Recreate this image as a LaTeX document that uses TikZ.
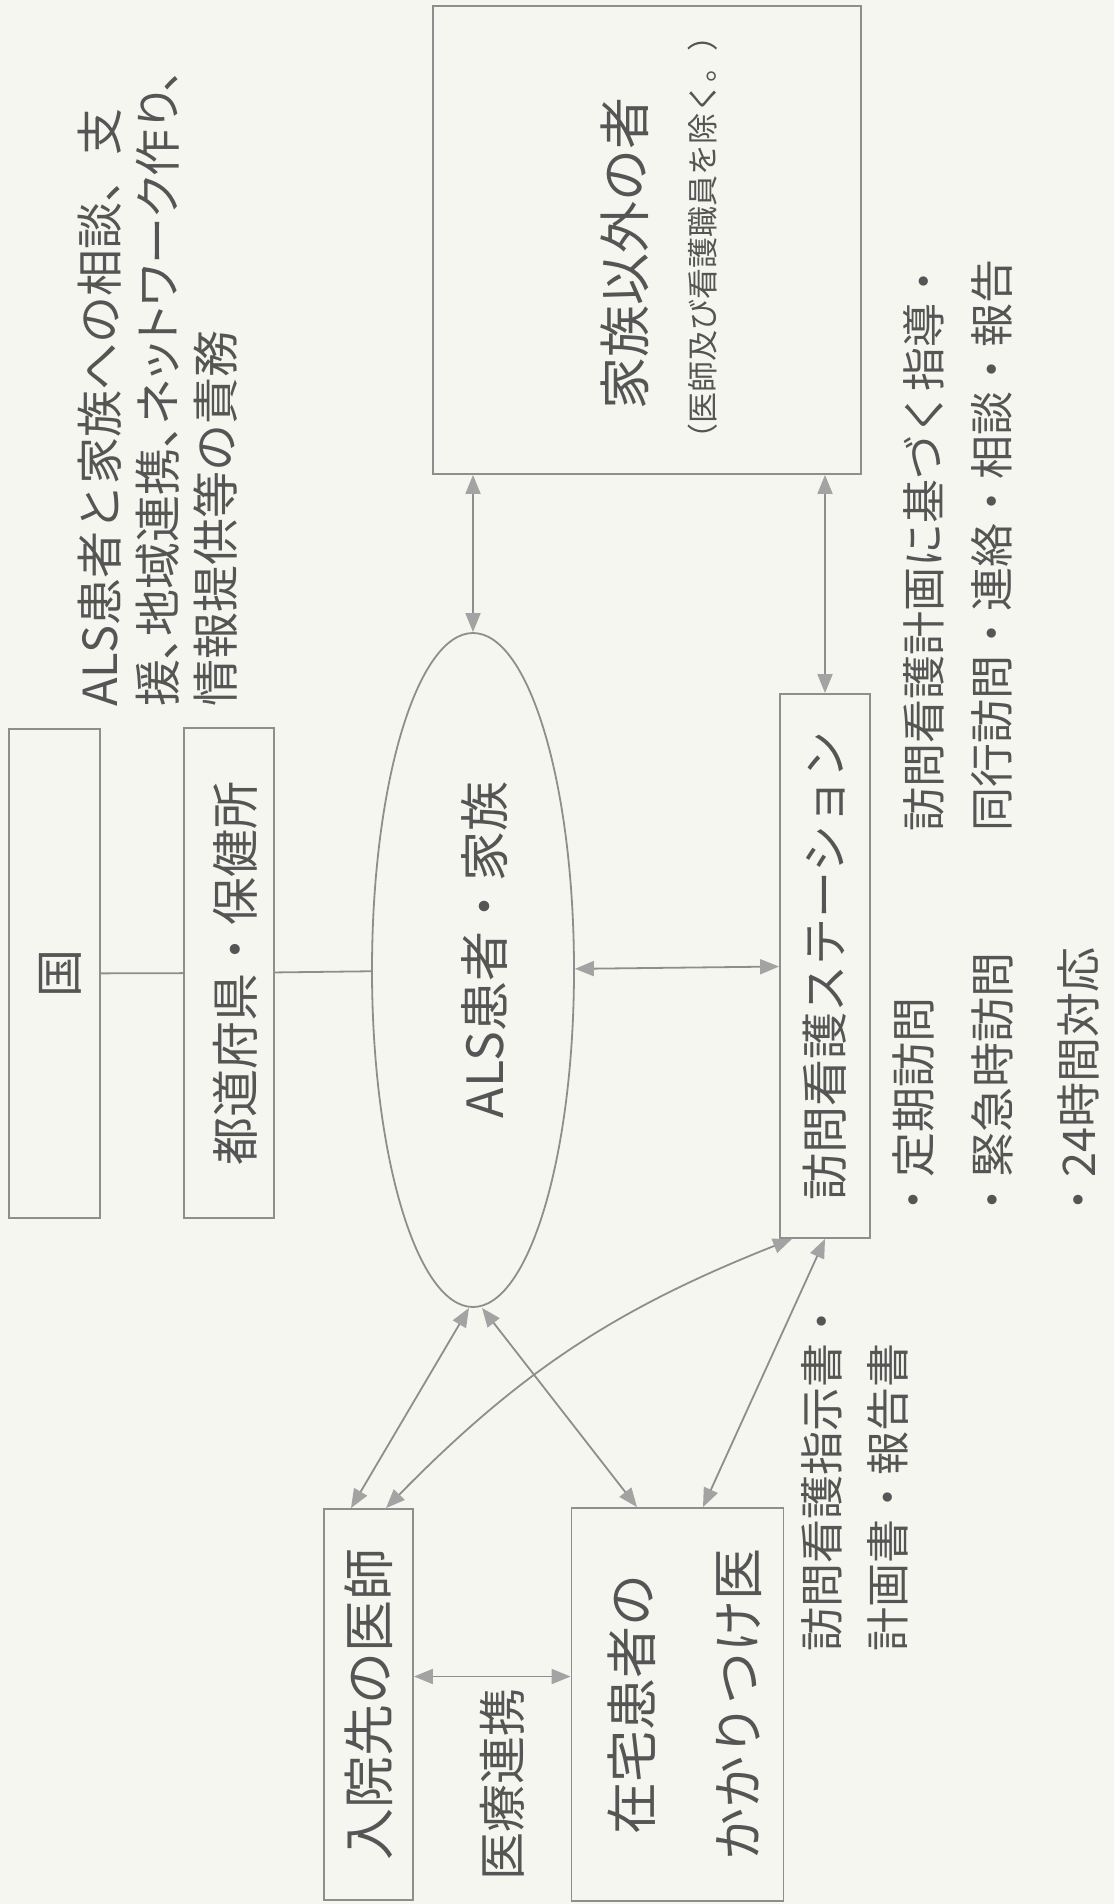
\documentclass[tikz,border=0pt]{standalone}
\usepackage{fontspec}
\newfontfamily\jp{Noto Sans CJK JP}
\newfontfamily\jpp[RawFeature=+palt]{Noto Sans CJK JP}
\newcommand\jpfs[2]{\jp\fontsize{#1}{#2}\selectfont}
\newcommand\nudge[2]{\raisebox{-#1}[\height][\depth]{#2}}
\usetikzlibrary{shapes.geometric,arrows.meta}
\definecolor{paper}{HTML}{F6F6F0}
\definecolor{ink}{HTML}{555555}
\definecolor{rule}{HTML}{8E8E8E}
\definecolor{head}{HTML}{A3A3A3}
\begin{document}
\begin{tikzpicture}[x=0.5pt,y=-0.5pt,
  box/.style={draw=rule, line width=0.9pt, rectangle, inner sep=0pt, text=ink},
  oval/.style={draw=rule, line width=0.9pt, ellipse, inner sep=0pt, text=ink},
  lbl/.style={text=ink, inner sep=0pt, rotate=90},
  link/.style={draw=rule, line width=0.9pt},
  dbl/.style={link, {Triangle[length=9.5pt,width=7.5pt,color=head,fill=head]}-{Triangle[length=9.5pt,width=7.5pt,color=head,fill=head]}}
]
\fill[paper] (0,0) rectangle (1114,1904);
\useasboundingbox (0,0) rectangle (1114,1904);

% boxes
\node[box, minimum width=45.5pt, minimum height=244.5pt, font=\jpfs{24}{29}] (kuni) at (54.5,973.5) {\rotatebox{90}{\nudge{3pt}{国}}};
\node[box, minimum width=45pt, minimum height=245pt, font=\jpfs{24}{29}] (pref) at (229,973) {\rotatebox{90}{\nudge{3pt}{都道府県・保健所}}};
\node[oval, minimum width=101pt, minimum height=337pt, font=\jpfs{25}{30}] (als) at (473,970) {\rotatebox{90}{\nudge{6pt}{\hspace*{20pt}ALS患者・家族}}};
\node[box, minimum width=214pt, minimum height=234pt] (other) at (647,240) {};
\node[lbl, font=\jpfs{26}{31}] (othert) at (625,253) {家族以外の者};
\node[lbl, font=\jpfs{15.5}{19}] (others) at (703,237) {（医師及び看護職員を除く。）};
\node[box, minimum width=45pt, minimum height=272pt, font=\jpfs{23.5}{28}] (stn) at (825,966) {\rotatebox{90}{訪問看護ステーション}};
\node[box, minimum width=44.5pt, minimum height=195.5pt, font=\jpfs{26}{31}] (hosp) at (368.5,1704.5) {\rotatebox{90}{入院先の医師}};
\node[box, minimum width=92.5pt, minimum height=196.5pt, font=\jpfs{26}{53}] (home) at (677.5,1704.5) {\rotatebox{90}{\nudge{3pt}{\begin{tabular}{@{}c@{}}在宅患者の\\かかりつけ医\end{tabular}}}};

% free texts
\node[lbl, anchor=west, align=left, font=\jpfs{23.5}{29}] (duty) at (158,707)
  {ALS患者と家族への相談、支\\{\jpp 援、地域連携、ネットワーク作り、}\\情報提供等の責務};
\node[lbl, font=\jpfs{24}{29}] (renkei) at (502,1784) {医療連携};
\node[lbl, anchor=west, font=\jpfs{22.5}{27}] (b1) at (913,1223) {・定期訪問};
\node[lbl, anchor=west, font=\jpfs{22.5}{27}] (b2) at (992,1223) {・緊急時訪問};
\node[lbl, anchor=west, font=\jpfs{22.5}{27}] (b3) at (1078,1223) {・24時間対応};
\node[lbl, anchor=west, align=left, font=\jpfs{22}{34}] (guide) at (958,832)
  {訪問看護計画に基づく指導・\\同行訪問・連絡・相談・報告};
\node[lbl, anchor=west, align=left, font=\jpfs{22}{33}] (docs) at (855,1652)
  {訪問看護指示書・\\計画書・報告書};

% connectors
\draw[link] (kuni) -- (pref);
\draw[link] (pref) -- (als);
\draw[dbl] (als) -- (stn);
\draw[dbl] (other.south -| als.north) -- (als.north);
\draw[dbl] (other.south -| stn.north) -- (stn.north);
\draw[dbl] ([xshift=-2pt]als.south) -- ([xshift=-8.75pt]hosp.north);
\draw[dbl] ([xshift=4.5pt]als.south) -- ([xshift=-20.25pt]home.north);
\draw[dbl] ([xshift=-16.5pt]stn.south) to[bend right=12] ([xshift=8.75pt]hosp.north);
\draw[dbl] (stn.south) -- ([xshift=12.75pt]home.north);
\draw[dbl] ([yshift=14pt]hosp.east) -- ([yshift=14pt]home.west);
\end{tikzpicture}
\end{document}
